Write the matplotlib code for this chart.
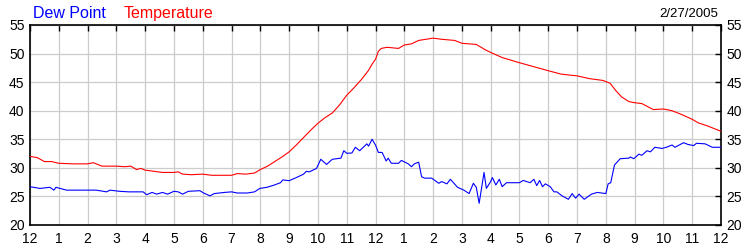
import matplotlib
matplotlib.use("Agg")
import matplotlib.pyplot as plt

plt.rcParams['font.family'] = ['Liberation Sans', 'DejaVu Sans']

# hours since midnight, values in deg F
temp_hours = [0.0, 0.25, 0.5, 0.75, 1.0, 1.5, 2.0, 2.2, 2.5, 3.0, 3.3, 3.5, 3.7, 3.85,
              4.0, 4.3, 4.6, 5.0, 5.15, 5.3, 5.6, 6.0, 6.3, 7.0, 7.2, 7.5, 7.8, 8.0,
              8.25, 8.5, 8.75, 9.0, 9.25, 9.5, 9.75, 10.0, 10.25, 10.5, 10.75, 11.0,
              11.25, 11.5, 11.75, 11.9, 12.0, 12.1, 12.2, 12.4, 12.6, 12.8, 13.0,
              13.25, 13.5, 14.0, 14.3, 14.75, 15.0, 15.5, 15.8, 16.0, 16.4, 17.0,
              17.5, 18.0, 18.45, 19.0, 19.45, 19.9, 20.15, 20.35, 20.55, 20.8, 21.0,
              21.25, 21.65, 22.0, 22.3, 22.65, 23.0, 23.2, 23.55, 24.0]
temp_vals = [32.0, 31.8, 31.1, 31.1, 30.8, 30.7, 30.7, 30.9, 30.3, 30.3, 30.2, 30.3,
             29.7, 29.9, 29.6, 29.4, 29.2, 29.2, 29.3, 28.9, 28.8, 28.9, 28.7, 28.7,
             29.0, 28.9, 29.1, 29.7, 30.3, 31.1, 31.9, 32.8, 34.0, 35.3, 36.6, 37.8,
             38.8, 39.6, 41.0, 42.7, 44.0, 45.4, 47.0, 48.3, 49.0, 50.4, 50.9, 51.1,
             51.0, 50.9, 51.5, 51.7, 52.3, 52.7, 52.5, 52.3, 51.8, 51.6, 50.7, 50.2,
             49.3, 48.4, 47.7, 47.0, 46.4, 46.1, 45.6, 45.3, 44.8, 43.5, 42.4, 41.6,
             41.4, 41.25, 40.2, 40.3, 40.0, 39.3, 38.5, 37.9, 37.3, 36.4]

dew_hours = [0.0, 0.35, 0.69, 0.83, 0.9, 1.27, 2.3, 2.66, 2.78, 3.1, 3.43, 3.93, 4.05,
             4.24, 4.4, 4.6, 4.78, 5.0, 5.15, 5.3, 5.5, 5.9, 6.03, 6.25, 6.4, 6.75,
             7.0, 7.2, 7.55, 7.8, 7.98, 8.23, 8.46, 8.7, 8.78, 9.0, 9.25, 9.5, 9.6,
             9.7, 9.95, 10.1, 10.3, 10.5, 10.8, 10.9, 11.0, 11.18, 11.3, 11.45, 11.7,
             11.76, 11.88, 12.0, 12.1, 12.23, 12.37, 12.44, 12.55, 12.8, 12.9, 13.14,
             13.25, 13.35, 13.5, 13.6, 13.7, 13.95, 14.2, 14.3, 14.48, 14.6, 14.85,
             15.07, 15.25, 15.4, 15.5, 15.6, 15.77, 15.85, 16.0, 16.06, 16.18, 16.3,
             16.4, 16.55, 17.0, 17.13, 17.37, 17.5, 17.6, 17.7, 17.8, 17.9, 18.07,
             18.2, 18.3, 18.48, 18.7, 18.83, 18.95, 19.07, 19.25, 19.5, 19.7, 20.0,
             20.08, 20.17, 20.3, 20.5, 20.8, 20.85, 20.97, 21.15, 21.25, 21.43, 21.55,
             21.7, 21.95, 22.1, 22.3, 22.4, 22.7, 22.85, 23.05, 23.15, 23.45, 23.7, 24.0]
dew_vals = [26.7, 26.4, 26.6, 26.1, 26.6, 26.1, 26.1, 25.8, 26.1, 25.9, 25.8, 25.8, 25.3,
            25.7, 25.4, 25.7, 25.4, 25.9, 25.8, 25.4, 25.9, 26.0, 25.6, 25.1, 25.5, 25.7,
            25.8, 25.6, 25.6, 25.8, 26.4, 26.6, 26.95, 27.4, 27.9, 27.75, 28.3, 28.9, 29.4,
            29.3, 29.9, 31.5, 30.6, 31.5, 31.7, 33.0, 32.55, 32.6, 33.6, 33.0, 34.2,
            33.8, 35.0, 34.0, 32.7, 32.7, 31.2, 31.7, 30.8, 30.8, 31.3, 30.7,
            30.2, 30.7, 31.0, 28.45, 28.2, 28.2, 27.3, 27.6, 27.2, 28.0, 26.6,
            26.1, 25.5, 27.3, 26.6, 23.8, 29.2, 26.4, 27.6, 28.3, 27.0, 28.0,
            26.7, 27.4, 27.4, 27.8, 27.4, 28.0, 26.9, 27.8, 26.7, 27.2, 26.7,
            25.8, 25.8, 25.1, 24.5, 25.5, 24.7, 25.4, 24.5, 25.4, 25.7, 25.5,
            27.2, 27.4, 30.5, 31.6, 31.7, 31.9, 31.6, 32.4, 32.2, 33.0, 32.8,
            33.6, 33.4, 33.6, 34.0, 33.6, 34.4, 34.1, 33.9, 34.3, 34.2, 33.6, 33.6]

hour_ticks = list(range(0, 25))
hour_labels = ['12', '1', '2', '3', '4', '5', '6', '7', '8', '9', '10', '11',
               '12', '1', '2', '3', '4', '5', '6', '7', '8', '9', '10', '11', '12']
y_ticks = [20, 25, 30, 35, 40, 45, 50, 55]
date_label = "2/27/2005"

fig = plt.figure(figsize=(7.5, 2.5), dpi=100)
ax = fig.add_axes([30 / 750, 25 / 250, 691 / 750, 200 / 250])

ax.plot(temp_hours, temp_vals, color='#ff0000', linewidth=0.8, zorder=3)
ax.plot(dew_hours, dew_vals, color='#0000ff', linewidth=0.8, zorder=3)

ax.set_xlim(0, 24)
ax.set_ylim(20, 55)
ax.set_xticks(hour_ticks)
ax.set_xticklabels(hour_labels)
ax.set_yticks(y_ticks)
ax.grid(True, color='#cccccc', linewidth=0.9)
ax.set_axisbelow(True)

ax.tick_params(axis='x', direction='in', length=4, width=1, bottom=False, top=True,
               labelbottom=True, labelsize=10, pad=5)
ax.tick_params(axis='y', direction='in', length=4, width=1, left=False, right=True,
               labelleft=True, labelright=True, labelsize=10, pad=4)
for s in ax.spines.values():
    s.set_linewidth(1.2)

fig.text(33 / 750, 1 - 18 / 250, "Dew Point", color='#0000ff', fontsize=11.5, va='baseline')
fig.text(124 / 750, 1 - 18 / 250, "Temperature", color='#ff0000', fontsize=11.5, va='baseline')
fig.text(718 / 750, 1 - 17 / 250, date_label, color='black', fontsize=9.5, va='baseline', ha='right')

fig.savefig("out.png", dpi=100, facecolor='white')
